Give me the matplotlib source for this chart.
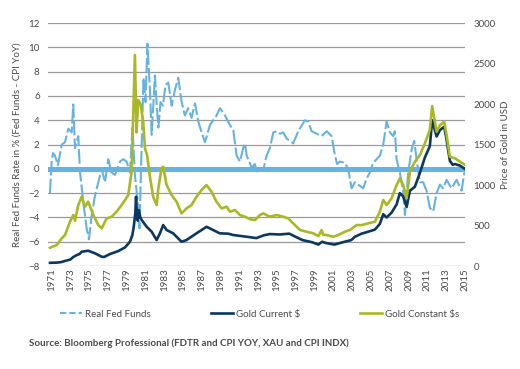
import numpy as np
import matplotlib.pyplot as plt
from matplotlib.lines import Line2D

plt.rcParams['font.family'] = ['Lato', 'DejaVu Sans']

# Real Fed Funds rate (Fed Funds - CPI YoY), %
rff_year = [1970.84, 1971.02, 1971.16, 1971.37, 1971.69, 1972.09, 1972.44, 1972.79, 1973.15, 1973.32,
            1973.50, 1973.85, 1974.03, 1974.38, 1974.74, 1974.99, 1975.28, 1975.63, 1975.98, 1976.34,
            1976.69, 1977.04, 1977.40, 1977.76, 1978.29, 1978.64, 1979.00, 1979.35, 1979.62, 1979.88,
            1980.15, 1980.36, 1980.60, 1980.79, 1981.00, 1981.21, 1981.48, 1981.66, 1981.85, 1982.01,
            1982.22, 1982.38, 1982.60, 1982.86, 1983.13, 1983.43, 1983.79, 1984.14, 1984.49, 1984.85,
            1985.20, 1985.55, 1985.91, 1986.27, 1986.62, 1986.98, 1987.33, 1987.86, 1988.57, 1988.93,
            1989.46, 1989.99, 1990.34, 1990.70, 1991.05, 1991.40, 1991.59, 1991.77, 1992.30, 1992.65,
            1992.83, 1993.53, 1993.89, 1994.24, 1994.60, 1994.96, 1995.31, 1995.66, 1996.02, 1996.72,
            1997.26, 1997.97, 1998.32, 1998.68, 1999.21, 1999.74, 2000.28, 2000.81, 2001.16, 2001.40,
            2001.69, 2002.22, 2002.57, 2002.94, 2003.29, 2003.64, 2004.17, 2004.53, 2004.88, 2005.23,
            2005.60, 2005.95, 2006.30, 2006.66, 2007.01, 2007.36, 2007.54, 2007.72, 2008.07, 2008.43,
            2008.61, 2008.96, 2009.32, 2009.60, 2009.85, 2010.20, 2010.55, 2010.91, 2011.26, 2011.62,
            2011.98, 2012.33, 2012.68, 2013.04, 2013.57, 2014.11, 2014.64, 2014.99]
rff_val = [-2.0, 0.6, 1.3, 1.1, 0.3, 2.0, 2.2, 3.3, 3.0, 5.3,
           1.7, 2.7, -0.2, -2.7, -4.9, -5.8, -3.8, -2.2, -1.1, 0.0,
           -1.1, 0.8, -0.3, -0.5, 0.6, 0.8, 0.6, -0.3, 3.4, -0.5,
           -2.5, -4.9, 2.0, 7.5, 5.5, 10.3, 6.5, 2.8, 5.5, 7.7,
           5.0, 3.4, 5.5, 5.2, 6.9, 7.1, 5.2, 6.5, 7.5, 5.5,
           4.4, 5.0, 4.2, 5.4, 3.9, 3.0, 2.2, 3.6, 4.4, 5.0,
           4.4, 3.6, 3.2, 1.1, 0.6, 1.7, 2.1, 1.1, 0.1, 0.4,
           -0.2, -0.1, 1.1, 1.7, 3.0, 3.1, 2.9, 3.0, 2.5, 2.1,
           3.1, 4.0, 3.9, 3.1, 2.9, 2.7, 3.1, 2.7, 1.1, 0.4,
           0.6, 0.5, 0.0, -1.6, -1.1, -1.3, -1.6, -0.8, -0.3, 0.5,
           0.8, 1.1, 2.0, 3.9, 3.0, 2.7, 3.1, 0.8, -0.3, -1.9,
           -3.8, -0.3, 1.6, 2.3, 0.8, -1.1, -1.1, -1.8, -3.2, -3.5,
           -2.0, -1.3, -1.6, -0.9, -1.6, -0.9, -1.8, 0.0]

# Gold, current dollars
cur_year = [1970.84, 1971.50, 1972.00, 1972.50, 1973.00, 1973.30, 1973.60, 1974.00, 1974.21, 1974.91,
            1975.63, 1976.34, 1976.60, 1977.22, 1978.11, 1978.82, 1979.35, 1979.60, 1979.75, 1979.92,
            1980.00, 1980.08, 1980.18, 1980.30, 1980.45, 1980.60, 1981.13, 1981.66, 1982.19, 1982.54,
            1982.89, 1983.25, 1983.95, 1984.84, 1985.37, 1986.43, 1987.50, 1988.20, 1988.90, 1989.81,
            1990.34, 1991.77, 1992.80, 1993.60, 1994.24, 1995.30, 1996.30, 1997.00, 1997.70, 1998.70,
            1999.40, 1999.80, 2000.20, 2001.10, 2002.20, 2002.90, 2003.29, 2004.00, 2004.70, 2005.41,
            2005.94, 2006.30, 2006.66, 2007.19, 2007.72, 2008.07, 2008.43, 2008.79, 2009.14, 2009.67,
            2010.20, 2010.73, 2011.26, 2011.51, 2011.98, 2012.34, 2012.79, 2013.04, 2013.39, 2013.70,
            2013.93, 2014.46, 2014.99]
cur_val = [40, 42, 48, 65, 80, 110, 130, 150, 177, 189,
           157, 115, 112, 148, 185, 230, 300, 380, 480, 650,
           856, 620, 560, 690, 600, 568, 485, 424, 321, 404,
           506, 445, 404, 300, 321, 404, 485, 445, 404, 400,
           383, 362, 345, 380, 395, 390, 400, 360, 321, 295,
           265, 300, 285, 265, 300, 321, 362, 400, 424, 450,
           520, 640, 600, 660, 760, 900, 860, 730, 930, 980,
           1150, 1340, 1480, 1800, 1600, 1680, 1720, 1560, 1300, 1250,
           1260, 1240, 1200]

# Gold, constant dollars
con_year = [1970.84, 1971.55, 1972.09, 1972.44, 1972.97, 1973.32, 1973.50, 1973.85, 1974.21, 1974.56,
            1974.91, 1975.45, 1975.98, 1976.34, 1976.87, 1977.40, 1977.93, 1978.46, 1978.82, 1979.17,
            1979.53, 1979.70, 1979.88, 1980.05, 1980.23, 1980.48, 1980.76, 1980.95, 1981.17, 1981.48,
            1981.83, 1982.19, 1982.36, 1982.71, 1982.89, 1983.25, 1983.78, 1984.31, 1984.84, 1985.37,
            1985.90, 1986.43, 1986.97, 1987.50, 1988.03, 1988.56, 1989.10, 1989.63, 1990.00, 1990.53,
            1991.05, 1991.60, 1992.10, 1992.65, 1993.18, 1993.53, 1994.24, 1994.96, 1995.66, 1996.20,
            1996.72, 1997.45, 1998.15, 1998.86, 1999.40, 1999.75, 1999.90, 2000.28, 2000.99, 2001.52,
            2002.22, 2002.76, 2003.46, 2004.00, 2004.70, 2005.41, 2005.94, 2006.30, 2006.66, 2007.19,
            2007.72, 2008.07, 2008.43, 2008.79, 2009.14, 2009.67, 2010.20, 2010.73, 2011.26, 2011.51,
            2011.98, 2012.34, 2012.79, 2013.04, 2013.39, 2013.93, 2014.46, 2014.99]
con_val = [226, 259, 342, 383, 547, 630, 560, 753, 856, 733,
           794, 630, 506, 465, 588, 609, 671, 753, 815, 877,
           1165, 1865, 2606, 1650, 2050, 2000, 1782, 1453, 1371, 1100,
           850, 753, 950, 1210, 1227, 1000, 877, 794, 650, 712,
           753, 856, 939, 1000, 918, 794, 712, 733, 671, 692,
           630, 609, 580, 568, 630, 650, 609, 630, 609, 588,
           527, 445, 424, 404, 370, 445, 385, 383, 362, 383,
           424, 445, 506, 506, 527, 547, 671, 815, 753, 836,
           1000, 1083, 1000, 836, 1165, 1288, 1371, 1515, 1680, 1975,
           1659, 1741, 1782, 1618, 1350, 1330, 1290, 1250]

year_ticks = list(range(1971, 2016, 2))

lblue = '#66b2e2'
navy = '#0b3760'
olive = '#a9b824'
txt = '#4a4a4a'

fig = plt.figure(figsize=(5.2, 3.69), dpi=100)
ax = fig.add_axes([0.0923, 0.279, 0.8019, 0.6584])
ax2 = ax.twinx()

ax.axhline(0, color=lblue, lw=3.6, zorder=1)
ax.plot(rff_year, rff_val, color=lblue, lw=1.5, dashes=(7, 1.5), zorder=2)
ax2.plot(cur_year, cur_val, color=navy, lw=1.9)
ax2.plot(con_year, con_val, color=olive, lw=1.9)

ax.set_xlim(1970.63, 2015.0)
ax.set_ylim(-8, 12)
ax.set_yticks(range(-8, 13, 2))
ax2.set_ylim(0, 3000)
ax2.set_yticks(range(0, 3001, 500))
ax.set_xticks(year_ticks)
ax.set_xticklabels([str(y) for y in year_ticks], rotation=90)

ax.yaxis.grid(True, color='#9a9a9a', lw=0.9)
ax.set_axisbelow(True)
for a in (ax, ax2):
    for s in a.spines.values():
        s.set_visible(False)
    a.tick_params(length=0, labelsize=7, labelcolor=txt)
ax.tick_params(axis='y', pad=6)
ax2.tick_params(axis='y', pad=6)
ax.tick_params(axis='x', pad=1.5)

ax.set_ylabel("Real Fed Funds Rate in % (Fed Funds - CPI YoY)", fontsize=7, color=txt, labelpad=5)
ax2.set_ylabel("Price of Gold in USD", fontsize=7, color=txt, labelpad=4)

handles = [Line2D([], [], color=lblue, lw=1.5, dashes=(3, 1.5)),
           Line2D([], [], color=navy, lw=1.9),
           Line2D([], [], color=olive, lw=1.9)]
fig.legend(handles, ["Real Fed Funds", "Gold Current $", "Gold Constant $s"],
           loc='center', bbox_to_anchor=(0.5, 0.149), ncol=3, frameon=False,
           fontsize=7, handlelength=2.2, handletextpad=0.35, columnspacing=6.2,
           labelcolor=txt)

fig.text(0.056, 0.07, "Source: Bloomberg Professional (FDTR and CPI YOY, XAU and CPI INDX)",
         fontsize=7, fontweight='bold', color=txt, va='center')

fig.savefig('out.png', dpi=100)
